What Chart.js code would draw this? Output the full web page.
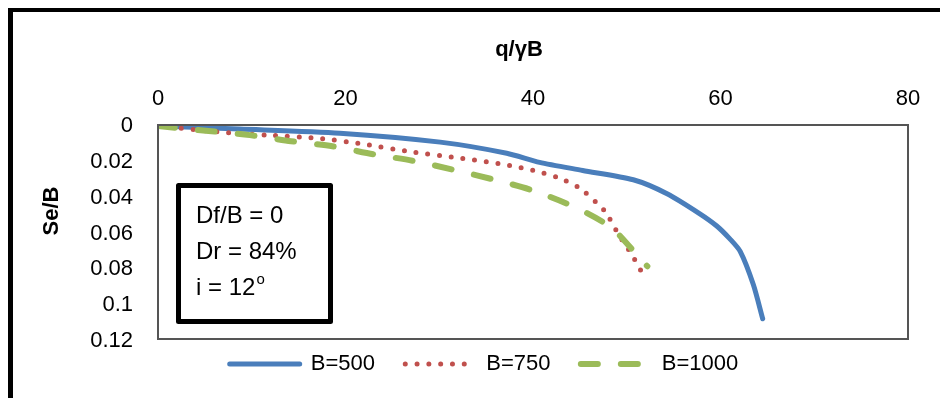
<!DOCTYPE html>
<html>
<head>
<meta charset="utf-8">
<script src="https://cdn.jsdelivr.net/npm/chart.js@4"></script>
<style>
  html, body { margin: 0; padding: 0; background: #fff; }
  #wrap { width: 940px; height: 398px; }
</style>
</head>
<body>
<div id="wrap"><canvas id="chart" width="940" height="398"></canvas></div>
<script>
// q/γB values per series
const xB500 = [0, 8.7, 19.4, 30.1, 37.2, 40.7, 45.3, 50.7, 54.3, 57.8, 59.6, 61, 62.1, 63.5, 64.5];
const yB500 = [0, 0.0017, 0.004, 0.009, 0.0152, 0.0203, 0.0248, 0.03, 0.0378, 0.049, 0.0558, 0.063, 0.07, 0.0885, 0.1076];

const xB750 = [0, 7.7, 11.6, 17, 21.9, 27.2, 32.4, 37.5, 40, 42.6, 44.9, 46.9, 47.8, 49.1, 50.5, 51.8];
const yB750 = [0, 0.0039, 0.0051, 0.0068, 0.0101, 0.0146, 0.018, 0.022, 0.0248, 0.0287, 0.0344, 0.0434, 0.0485, 0.0603, 0.0715, 0.0834];

const xB1000 = [0, 5.4, 9.8, 14.2, 18.6, 23, 27.5, 31.8, 36.2, 40, 44.6, 48.4, 51.4, 52.2];
const yB1000 = [0, 0.0028, 0.0051, 0.0085, 0.0113, 0.0158, 0.0197, 0.0248, 0.0304, 0.036, 0.0456, 0.0569, 0.0738, 0.0783];

const seriesLabels = ["B=500", "B=750", "B=1000"];
const xTitle = "q/γB";
const yTitle = "Se/B";
const noteLines = ["Df/B = 0", "Dr = 84%", "i = 12"];

const FONT = "'Liberation Sans', Arial, sans-serif";

const toPoints = (xs, ys) => xs.map((x, i) => ({ x: x, y: ys[i] }));

// frame, plot border, axis titles and text box
const decorations = {
  id: "decorations",
  beforeDraw(chart) {
    const ctx = chart.ctx;
    ctx.save();
    ctx.fillStyle = "#fff";
    ctx.fillRect(0, 0, chart.width, chart.height);
    ctx.fillStyle = "#000";
    ctx.fillRect(8, 8, 5, chart.height - 8);
    ctx.fillRect(8, 8, chart.width - 8, 4);
    ctx.restore();
  },
  afterDraw(chart) {
    const ctx = chart.ctx;
    const a = chart.chartArea;
    ctx.save();
    // plot area border
    ctx.strokeStyle = "#555";
    ctx.lineWidth = 2;
    ctx.strokeRect(a.left, a.top - 1, a.right - a.left, a.bottom - a.top - 1);

    // axis titles
    ctx.fillStyle = "#000";
    ctx.font = "bold 22px " + FONT;
    ctx.textAlign = "center";
    ctx.textBaseline = "middle";
    ctx.fillText(xTitle, 519, 50);
    ctx.save();
    ctx.translate(52, 211);
    ctx.rotate(-Math.PI / 2);
    ctx.fillText(yTitle, 0, 0);
    ctx.restore();

    // text box
    ctx.fillStyle = "#fff";
    ctx.fillRect(179, 186, 151, 135);
    ctx.strokeStyle = "#000";
    ctx.lineWidth = 5;
    ctx.lineJoin = "round";
    ctx.strokeRect(178.5, 185.5, 152, 136);
    ctx.fillStyle = "#000";
    ctx.font = "24px " + FONT;
    ctx.textAlign = "left";
    ctx.textBaseline = "alphabetic";
    ctx.fillText(noteLines[0], 196, 223);
    ctx.fillText(noteLines[1], 196, 259);
    ctx.fillText(noteLines[2], 196, 295);
    const w = ctx.measureText(noteLines[2]).width;
    ctx.font = "15px " + FONT;
    ctx.fillText("o", 197 + w, 284);
    ctx.restore();
  }
};

new Chart(document.getElementById("chart"), {
  type: "scatter",
  data: {
    datasets: [
      {
        label: seriesLabels[0],
        data: toPoints(xB500, yB500),
        showLine: true,
        borderColor: "#4a7ebb",
        backgroundColor: "#4a7ebb",
        borderWidth: 5,
        borderCapStyle: "round",
        borderJoinStyle: "round",
        tension: 0.25,
        pointRadius: 0,
        order: 3,
      },
      {
        label: seriesLabels[1],
        data: toPoints(xB750, yB750),
        showLine: true,
        borderColor: "#c0504d",
        backgroundColor: "#c0504d",
        borderWidth: 5,
        borderDash: [0, 11.8],
        borderCapStyle: "round",
        borderJoinStyle: "round",
        tension: 0.25,
        pointRadius: 0,
        order: 2,
      },
      {
        label: seriesLabels[2],
        data: toPoints(xB1000, yB1000),
        showLine: true,
        borderColor: "#9bbb59",
        backgroundColor: "#9bbb59",
        borderWidth: 6,
        borderDash: [17, 23],
        borderCapStyle: "round",
        borderJoinStyle: "round",
        tension: 0.25,
        pointRadius: 0,
        order: 1,
      },
    ],
  },
  options: {
    responsive: false,
    animation: false,
    layout: {
      padding: { top: 0, left: 60, right: 32, bottom: 13 },
    },
    scales: {
      x: {
        type: "linear",
        position: "top",
        min: 0,
        max: 80,
        ticks: {
          stepSize: 20,
          color: "#000",
          padding: 14,
          font: { family: FONT, size: 22 },
        },
        grid: { display: false, drawTicks: false },
        border: { display: false },
        afterFit(scale) {
          scale.height = 126;
        },
      },
      y: {
        type: "linear",
        reverse: true,
        min: 0,
        max: 0.12,
        ticks: {
          stepSize: 0.02,
          color: "#000",
          padding: 25,
          font: { family: FONT, size: 22 },
          callback: (v) => String(+v.toFixed(2)),
        },
        grid: { display: false, drawTicks: false },
        border: { display: false },
        afterFit(scale) {
          scale.width = 98;
        },
      },
    },
    plugins: {
      legend: {
        display: true,
        position: "bottom",
        labels: {
          usePointStyle: true,
          pointStyle: "line",
          pointStyleWidth: 70,
          boxHeight: 22,
          padding: 12,
          color: "#000",
          font: { family: FONT, size: 22 },
          // legend marks follow the line style of each dataset
          generateLabels(chart) {
            const items = Chart.defaults.plugins.legend.labels.generateLabels(chart);
            return items.map((item) => {
              const ds = chart.data.datasets[item.datasetIndex];
              item.strokeStyle = ds.borderColor;
              item.lineWidth = ds.borderWidth;
              item.lineDash = ds.borderDash || [];
              item.lineCap = "round";
              if (item.datasetIndex < seriesLabels.length - 1) item.text = item.text + "   ";
              return item;
            });
          },
          sort: (a, b) => a.datasetIndex - b.datasetIndex,
        },
      },
      tooltip: { enabled: false },
    },
  },
  plugins: [decorations],
});
</script>
</body>
</html>
